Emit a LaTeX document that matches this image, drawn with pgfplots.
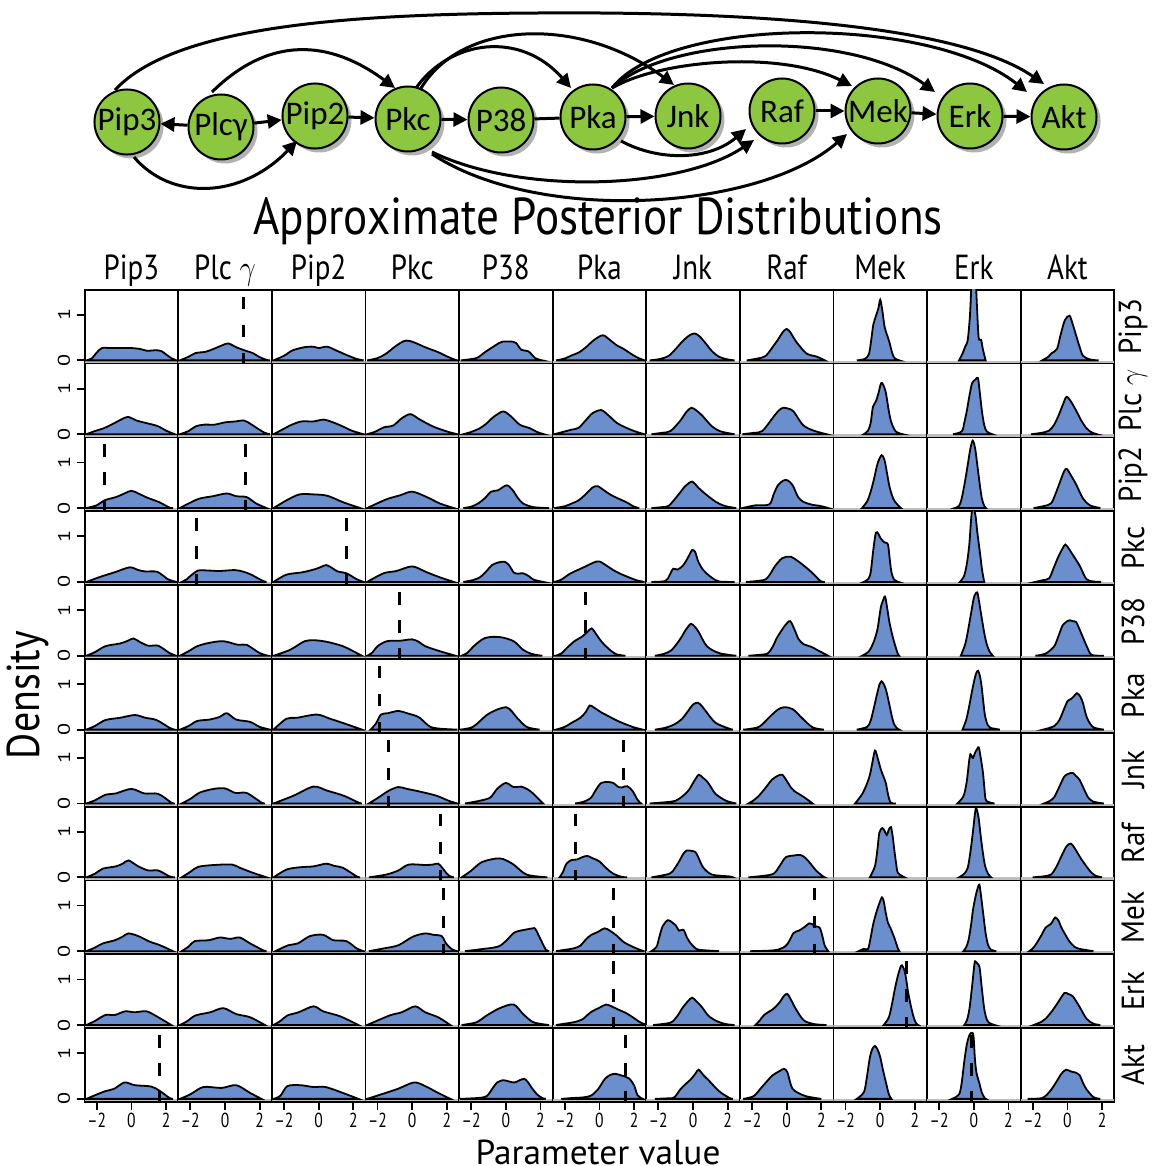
\documentclass[border=0pt]{standalone}
\usepackage{fontspec}
\setmainfont{PT Sans}
\newfontfamily\calfont{Carlito}
\usepackage{graphicx}
\usepackage{pgfplots}
\pgfplotsset{compat=1.18}
\usetikzlibrary{arrows.meta}

\definecolor{dens}{RGB}{106,143,204}
\definecolor{nodegreen}{RGB}{141,198,63}

\newcommand{\sx}[1]{\scalebox{1}[1.3]{#1}}
\newcommand{\sy}[1]{\scalebox{1.3}[1]{#1}}

\pgfplotsset{
  panel/.style={scale only axis, width=46.8pt, height=36.925pt, anchor=north west,
    xmin=-2.7, xmax=2.7, ymin=-0.07, ymax=1.55, xtick=\empty, ytick=\empty,
    axis line style={line width=0.9pt}, tick style={line width=0.9pt, black},
    tick align=outside, major tick length=4pt, xtick pos=bottom, ytick pos=left,
    clip=true, ticklabel style={font=\fontsize{7.8}{8}\selectfont}},
  col0/.style={ytick={0,1}, yticklabels={\sy{0},\sy{1}},
    yticklabel style={rotate=90, anchor=south, inner sep=3pt, font=\fontsize{8.5}{9}\selectfont}},
  col1/.style={}, col2/.style={}, col3/.style={}, col4/.style={}, col5/.style={},
  col6/.style={}, col7/.style={}, col8/.style={}, col9/.style={}, col10/.style={},
  row0/.style={}, row1/.style={}, row2/.style={}, row3/.style={}, row4/.style={},
  row5/.style={}, row6/.style={}, row7/.style={}, row8/.style={}, row9/.style={},
  row10/.style={xtick={-2,0,2}, xticklabels={\sx{–2},\sx{0},\sx{2}},
    xticklabel style={anchor=north, inner sep=1.5pt}},
}

% one density panel: column, row, density points, extra plots (true values)
\newcommand{\pan}[4]{%
\begin{axis}[panel, col#1, row#2, at={(42.3pt+46.8pt*#1,-144.85pt-36.925pt*#2)}]
\addplot[draw=gray!50, line width=1.2pt] coordinates {(-2.7,-0.03)(2.7,-0.03)};
\addplot[fill=dens, draw=black, line width=0.9pt, smooth, tension=0.5] coordinates {#3} \closedcycle;
#4
\end{axis}}
\newcommand{\vd}[1]{\addplot[black, line width=1.5pt, dash pattern=on 6.2pt off 7.8pt] coordinates {(#1,1.395)(#1,-0.07)};}

\newcommand{\nd}[4]{%
\fill[gray!60] (#2+4,#3+4) circle[radius=32.5];
\node[draw, line width=1pt, fill=nodegreen, circle, minimum size=32.5pt, inner sep=0pt,
  font=\calfont\fontsize{16.5}{17}\selectfont] (#1) at (#2,#3) {#4};}

\begin{document}
\begin{tikzpicture}[x=0.5pt, y=-0.5pt]
\path[use as bounding box] (0,0) rectangle (1152,1166);

% ---- network ----
\nd{pip3}{127}{122}{Pip3}
\nd{plc}{221}{127}{Plcγ}
\nd{pip2}{315}{116}{Pip2}
\nd{pkc}{408}{119}{Pkc}
\nd{p38}{501}{120}{P38}
\nd{pka}{593}{117}{Pka}
\nd{jnk}{688}{116}{Jnk}
\nd{raf}{782}{111}{Raf}
\nd{mek}{878}{111}{Mek}
\nd{erk}{970}{116}{Erk}
\nd{akt}{1064}{117}{Akt}

\begin{scope}[line width=1.5pt, arr/.style={-{Triangle[length=7pt,width=7pt]}}]
\draw[arr] (plc) -- (pip3);
\draw[arr] (plc) -- (pip2);
\draw[arr] (pip2) -- (pkc);
\draw[arr] (pkc) -- (p38);
\draw (p38) -- (pka);
\draw[arr] (pka) -- (jnk);
\draw[arr] (raf) -- (mek);
\draw[arr] (mek) -- (erk);
\draw[arr] (erk) -- (akt);
\draw[arr] (134,157) .. controls (170,200) and (240,200) .. (297,141);
\draw[arr] (212,92) .. controls (270,35) and (330,40) .. (395,88);
\draw[arr] (115,90) .. controls (180,20) and (380,12) .. (600,13) .. controls (850,15) and (980,40) .. (1044,84);
\draw[arr] (416,88) .. controls (450,40) and (520,30) .. (571,88);
\draw[arr] (420,90) .. controls (460,20) and (580,15) .. (674,85);
\draw[arr] (612,88) .. controls (660,60) and (780,50) .. (852,86);
\draw[arr] (612,88) .. controls (670,35) and (850,30) .. (935,92);
\draw[arr] (612,88) .. controls (670,15) and (930,15) .. (1027,92);
\draw[arr] (621,141) .. controls (660,162) and (710,160) .. (746,129);
\draw[arr] (432,152) .. controls (520,195) and (680,190) .. (754,140);
\draw[arr] (432,154) .. controls (540,225) and (760,210) .. (847,134);
\end{scope}

% ---- titles ----
\node[font=\fontsize{22.6}{23}\selectfont] at (598,221) {\scalebox{1}[1.15]{Approximate Posterior Distributions}};
\node[font=\fontsize{20}{20}\selectfont, rotate=90] at (28,695) {\scalebox{1}[1.15]{Density}};
\node[font=\fontsize{16.5}{17}\selectfont, anchor=base, inner sep=0pt] at (598,1164) {\scalebox{1.07}[1.05]{Parameter value}};
\foreach \t [count=\i from 0] in {Pip3,Plc $\gamma$,Pip2,Pkc,P38,Pka,Jnk,Raf,Mek,Erk,Akt}{
  \node[font=\fontsize{14.5}{15}\selectfont, anchor=base] at (131.4+93.6*\i,279) {\scalebox{1}[1.2]{\t}};
  \node[font=\fontsize{14.5}{15}\selectfont, rotate=90] at (1133,326.6+73.85*\i) {\scalebox{1}[1.1]{\t}};
}

% ---- row 0: Pip3 ----
\pan{0}{0}{(-2.6,0)(-2.3,0.04)(-2.0,0.17)(-1.7,0.27)(-1.2,0.27)(-0.5,0.27)(0,0.27)(0.5,0.25)(0.9,0.21)(1.3,0.22)(1.7,0.21)(2.0,0.13)(2.3,0.05)(2.6,0)}{}
\pan{1}{0}{(-2.6,0)(-2.1,0.08)(-1.7,0.16)(-1.1,0.19)(-0.6,0.26)(-0.1,0.34)(0.2,0.37)(0.7,0.28)(1.2,0.21)(1.6,0.16)(2.0,0.07)(2.4,0.01)(2.6,0)}{\vd{1.05}}
\pan{2}{0}{(-2.6,0)(-2.0,0.1)(-1.5,0.22)(-0.8,0.29)(-0.3,0.3)(0,0.27)(0.5,0.3)(1.0,0.22)(1.6,0.12)(2.2,0.03)(2.6,0)}{}
\pan{3}{0}{(-2.6,0)(-2.0,0.05)(-1.5,0.15)(-1.0,0.3)(-0.5,0.42)(-0.2,0.43)(0.2,0.38)(0.8,0.28)(1.5,0.18)(2.1,0.07)(2.5,0.01)(2.6,0)}{}
\pan{4}{0}{(-2.6,0)(-1.7,0.05)(-1.2,0.18)(-0.6,0.33)(-0.2,0.41)(0.4,0.41)(0.6,0.38)(0.9,0.23)(1.3,0.2)(1.7,0.05)(2.1,0)}{}
\pan{5}{0}{(-2.5,0)(-2.0,0.04)(-1.6,0.11)(-1.2,0.17)(-0.8,0.28)(-0.3,0.45)(0.2,0.55)(0.6,0.45)(1.0,0.33)(1.4,0.25)(1.8,0.15)(2.2,0.06)(2.6,0)}{}
\pan{6}{0}{(-2.5,0)(-1.9,0.03)(-1.4,0.1)(-1.0,0.25)(-0.6,0.42)(-0.2,0.55)(0.1,0.59)(0.4,0.52)(0.8,0.34)(1.1,0.2)(1.5,0.08)(2.0,0.02)(2.4,0)}{}
\pan{7}{0}{(-2.3,0)(-1.7,0.04)(-1.2,0.1)(-0.6,0.4)(0,0.69)(0.57,0.4)(1.15,0.15)(1.75,0.08)(2.2,0)}{}
\pan{8}{0}{(-1.35,0)(-0.9,0.03)(-0.65,0.14)(-0.5,0.5)(-0.4,0.78)(-0.25,0.97)(-0.1,1.15)(0,1.33)(0.12,1.1)(0.25,0.74)(0.4,0.55)(0.53,0.4)(0.7,0.15)(0.85,0.04)(1.1,0)}{}
\pan{9}{0}{(-0.85,0)(-0.65,0.15)(-0.5,0.3)(-0.35,0.45)(-0.22,1.0)(-0.12,1.8)(-0.02,2.2)(0.08,2.0)(0.18,1.2)(0.28,0.5)(0.42,0.45)(0.52,0.25)(0.68,0)}{}
\pan{10}{0}{(-1.45,0)(-1.1,0.08)(-0.9,0.16)(-0.6,0.25)(-0.4,0.55)(-0.15,0.88)(0.12,0.98)(0.3,0.8)(0.5,0.55)(0.7,0.3)(0.9,0.1)(1.3,0.02)(1.8,0)}{}

% ---- row 1: Plc gamma ----
\pan{0}{1}{(-2.6,0)(-2.1,0.07)(-1.6,0.13)(-1.1,0.22)(-0.6,0.32)(-0.2,0.38)(0.3,0.3)(0.8,0.25)(1.5,0.18)(2.0,0.08)(2.5,0)}{}
\pan{1}{1}{(-2.6,0)(-2.1,0.07)(-1.7,0.17)(-1.2,0.21)(-0.6,0.21)(0,0.26)(0.6,0.28)(1.1,0.3)(1.5,0.22)(1.9,0.12)(2.3,0.03)(2.6,0)}{}
\pan{2}{1}{(-2.6,0)(-2.1,0.1)(-1.6,0.2)(-1.0,0.28)(-0.3,0.28)(0.3,0.32)(0.9,0.25)(1.4,0.17)(1.9,0.08)(2.4,0.02)(2.6,0)}{}
\pan{3}{1}{(-2.6,0)(-2.1,0.06)(-1.65,0.15)(-1.1,0.19)(-0.6,0.35)(-0.1,0.44)(0.45,0.32)(1.2,0.17)(2.0,0.06)(2.6,0)}{}
\pan{4}{1}{(-2.45,0)(-2.0,0.05)(-1.5,0.13)(-1.1,0.24)(-0.7,0.38)(-0.15,0.5)(0.3,0.39)(0.8,0.21)(1.4,0.13)(1.8,0.05)(2.2,0)}{}
\pan{5}{1}{(-2.6,0)(-2.0,0.06)(-1.6,0.1)(-1.2,0.14)(-0.8,0.3)(-0.4,0.46)(0.1,0.53)(0.5,0.42)(1.0,0.25)(1.5,0.15)(2.0,0.07)(2.5,0.01)(2.6,0)}{}
\pan{6}{1}{(-2.4,0)(-1.8,0.03)(-1.3,0.07)(-0.75,0.29)(-0.4,0.48)(-0.1,0.58)(0.2,0.52)(0.55,0.4)(1.1,0.17)(1.6,0.06)(2.4,0)}{}
\pan{7}{1}{(-2.55,0)(-1.9,0.03)(-1.4,0.07)(-0.8,0.36)(-0.45,0.52)(-0.2,0.58)(0.1,0.56)(0.4,0.5)(0.95,0.2)(1.55,0.08)(2.3,0)}{}
\pan{8}{1}{(-0.95,0)(-0.7,0.08)(-0.55,0.25)(-0.42,0.6)(-0.25,0.72)(-0.1,0.9)(0.05,1.12)(0.18,1.08)(0.33,0.9)(0.5,0.5)(0.65,0.25)(0.9,0.06)(1.3,0)}{}
\pan{9}{1}{(-1.2,0)(-0.7,0.06)(-0.55,0.25)(-0.4,0.52)(-0.25,0.85)(-0.1,1.12)(0.1,1.2)(0.24,1.23)(0.35,0.9)(0.47,0.5)(0.6,0.2)(0.75,0.06)(1.06,0)}{}
\pan{10}{1}{(-2.1,0)(-1.5,0.03)(-1.05,0.08)(-0.75,0.22)(-0.5,0.42)(-0.25,0.66)(-0.05,0.82)(0.2,0.72)(0.5,0.52)(0.8,0.3)(1.1,0.13)(1.4,0.04)(1.7,0)}{}

% ---- row 2: Pip2 ----
\pan{0}{2}{(-2.6,0)(-2.0,0.06)(-1.55,0.17)(-0.9,0.24)(-0.4,0.32)(0,0.38)(0.4,0.32)(0.9,0.23)(1.6,0.13)(2.2,0.01)(2.4,0)}{\vd{-1.54}}
\pan{1}{2}{(-2.6,0)(-2.0,0.12)(-1.45,0.21)(-0.7,0.26)(0.1,0.32)(0.65,0.26)(1.25,0.24)(1.8,0.1)(2.4,0)}{\vd{1.19}}
\pan{2}{2}{(-2.6,0)(-1.85,0.17)(-1.1,0.3)(-0.3,0.3)(0.5,0.27)(1.4,0.13)(2.4,0)}{}
\pan{3}{2}{(-2.6,0)(-1.5,0.19)(-0.7,0.28)(0,0.36)(0.85,0.24)(1.6,0.1)(2.4,0)}{}
\pan{4}{2}{(-2.45,0)(-2.0,0.03)(-1.6,0.1)(-1.2,0.22)(-0.85,0.36)(-0.45,0.39)(0.05,0.5)(0.4,0.39)(0.7,0.22)(1.0,0.1)(1.6,0.02)(2.5,0)}{}
\pan{5}{2}{(-2.6,0)(-2.0,0.04)(-1.6,0.1)(-1.2,0.17)(-0.8,0.3)(-0.4,0.45)(-0.1,0.48)(0.3,0.38)(0.7,0.28)(1.2,0.19)(1.6,0.12)(2.0,0.03)(2.3,0)}{}
\pan{6}{2}{(-2.4,0)(-1.8,0.02)(-1.4,0.05)(-0.85,0.29)(-0.45,0.48)(-0.05,0.58)(0.3,0.45)(0.65,0.33)(1.3,0.14)(1.8,0.05)(2.3,0.01)(2.5,0)}{}
\pan{7}{2}{(-2.55,0)(-1.8,0.06)(-1.0,0.08)(-0.75,0.3)(-0.5,0.5)(-0.2,0.6)(0.05,0.61)(0.35,0.5)(0.65,0.25)(0.95,0.14)(1.5,0.07)(1.9,0.05)(2.4,0)}{}
\pan{8}{2}{(-1.05,0)(-0.75,0.15)(-0.55,0.36)(-0.35,0.65)(-0.15,0.98)(0.08,1.16)(0.25,1.05)(0.4,0.75)(0.53,0.48)(0.68,0.28)(0.85,0.14)(1.2,0)}{}
\pan{9}{2}{(-1.1,0)(-0.85,0.05)(-0.7,0.21)(-0.5,0.6)(-0.35,0.95)(-0.2,1.3)(-0.06,1.48)(0.08,1.3)(0.2,0.95)(0.35,0.5)(0.47,0.2)(0.6,0.05)(0.7,0)}{}
\pan{10}{2}{(-1.95,0)(-1.4,0.04)(-0.95,0.1)(-0.7,0.3)(-0.45,0.55)(-0.2,0.8)(-0.04,0.86)(0.2,0.72)(0.5,0.52)(0.9,0.21)(1.3,0.06)(1.9,0)}{}

% ---- row 3: Pkc ----
\pan{0}{3}{(-2.6,0)(-2.1,0.07)(-1.65,0.13)(-0.9,0.22)(-0.1,0.32)(0.4,0.26)(0.8,0.23)(1.5,0.22)(2.1,0.06)(2.6,0)}{}
\pan{1}{3}{(-2.5,0)(-2.2,0.06)(-2.0,0.13)(-1.55,0.25)(-1.0,0.25)(-0.3,0.24)(0.55,0.26)(1.0,0.23)(1.45,0.17)(2.2,0.02)(2.4,0)}{\vd{-1.67}}
\pan{2}{3}{(-2.6,0)(-1.85,0.16)(-0.95,0.21)(-0.2,0.28)(0.15,0.33)(0.45,0.37)(0.8,0.3)(1.1,0.23)(1.6,0.19)(2.2,0.06)(2.6,0)}{\vd{1.6}}
\pan{3}{3}{(-2.6,0)(-1.65,0.19)(-0.9,0.24)(0,0.34)(0.85,0.21)(1.6,0.1)(2.4,0)}{}
\pan{4}{3}{(-2.45,0)(-1.9,0.04)(-1.5,0.1)(-1.1,0.24)(-0.8,0.37)(-0.4,0.43)(-0.05,0.44)(0.2,0.36)(0.45,0.21)(0.7,0.18)(1.0,0.19)(1.35,0.12)(1.6,0.05)(2.15,0)}{}
\pan{5}{3}{(-2.6,0)(-2.2,0.05)(-1.7,0.18)(-1.2,0.27)(-0.8,0.34)(-0.3,0.43)(0,0.45)(0.4,0.36)(0.8,0.26)(1.2,0.18)(1.7,0.1)(2.2,0.03)(2.6,0)}{}
\pan{6}{3}{(-2.4,0)(-1.6,0.02)(-1.35,0.15)(-1.14,0.29)(-0.9,0.27)(-0.6,0.35)(-0.4,0.46)(-0.2,0.6)(-0.05,0.7)(0.12,0.66)(0.3,0.45)(0.55,0.28)(0.8,0.18)(1.1,0.09)(1.5,0.01)(2.4,0)}{}
\pan{7}{3}{(-2.35,0)(-1.7,0.02)(-1.2,0.06)(-0.9,0.2)(-0.7,0.33)(-0.25,0.52)(0.25,0.55)(0.85,0.4)(1.45,0.21)(1.95,0.02)(2.2,0)}{}
\pan{8}{3}{(-0.95,0)(-0.7,0.06)(-0.55,0.21)(-0.4,0.7)(-0.25,1.08)(-0.1,1.05)(0,0.97)(0.2,0.88)(0.3,0.86)(0.45,0.82)(0.55,0.5)(0.65,0.21)(0.8,0.05)(1.06,0)}{}
\pan{9}{3}{(-0.8,0)(-0.6,0.1)(-0.5,0.21)(-0.38,0.45)(-0.26,0.82)(-0.17,1.3)(-0.1,1.58)(0.0,1.6)(0.1,1.45)(0.2,1.1)(0.3,0.8)(0.4,0.5)(0.48,0.25)(0.6,0)}{}
\pan{10}{3}{(-1.85,0)(-1.4,0.04)(-1.05,0.08)(-0.8,0.3)(-0.55,0.53)(-0.3,0.72)(-0.12,0.82)(0.1,0.72)(0.3,0.6)(0.7,0.36)(1.1,0.06)(1.5,0.01)(1.95,0)}{}

% ---- row 4: P38 ----
\pan{0}{4}{(-2.6,0)(-2.1,0.08)(-1.5,0.21)(-0.65,0.27)(-0.2,0.33)(0.12,0.38)(0.5,0.3)(0.98,0.22)(1.55,0.22)(2.2,0.06)(2.6,0)}{}
\pan{1}{4}{(-2.6,0)(-2.1,0.1)(-1.6,0.21)(-0.95,0.28)(-0.1,0.32)(0.75,0.24)(1.25,0.24)(2.0,0.06)(2.5,0)}{}
\pan{2}{4}{(-2.6,0)(-1.65,0.13)(-0.8,0.32)(-0.2,0.34)(0.55,0.3)(1.4,0.21)(2.0,0.1)(2.5,0)}{}
\pan{3}{4}{(-2.6,0)(-2.3,0.07)(-2.0,0.21)(-1.45,0.32)(-0.7,0.33)(0,0.36)(0.4,0.3)(0.75,0.21)(1.6,0.1)(2.5,0)}{\vd{-0.75}}
\pan{4}{4}{(-2.55,0)(-2.2,0.07)(-1.85,0.21)(-1.2,0.39)(-0.35,0.41)(0.45,0.32)(1.0,0.13)(1.5,0.04)(2.1,0)}{}
\pan{5}{4}{(-2.55,0)(-2.2,0.05)(-1.8,0.2)(-1.4,0.33)(-1.0,0.42)(-0.7,0.52)(-0.45,0.6)(-0.2,0.48)(0.1,0.32)(0.4,0.2)(0.7,0.1)(1.0,0.03)(1.5,0)}{\vd{-0.83}}
\pan{6}{4}{(-2.2,0)(-1.7,0.04)(-1.25,0.12)(-0.75,0.36)(-0.4,0.58)(-0.12,0.7)(0.1,0.64)(0.33,0.52)(0.8,0.21)(1.5,0.06)(2.5,0)}{}
\pan{7}{4}{(-2.2,0)(-1.6,0.02)(-1.1,0.05)(-0.8,0.2)(-0.55,0.4)(-0.1,0.66)(0.2,0.76)(0.45,0.58)(0.7,0.36)(1.0,0.25)(1.4,0.2)(1.9,0.1)(2.4,0)}{}
\pan{8}{4}{(-1.05,0)(-0.65,0.1)(-0.35,0.33)(-0.15,0.6)(0.03,1.05)(0.15,1.2)(0.28,1.3)(0.4,1.05)(0.53,0.74)(0.7,0.45)(0.82,0.28)(1.0,0.06)(1.1,0)}{}
\pan{9}{4}{(-0.75,0)(-0.5,0.25)(-0.35,0.52)(-0.15,0.95)(0.0,1.27)(0.1,1.36)(0.2,1.39)(0.3,1.2)(0.43,0.89)(0.58,0.55)(0.72,0.29)(0.9,0.1)(1.1,0)}{}
\pan{10}{4}{(-1.85,0)(-1.25,0.05)(-0.76,0.21)(-0.5,0.45)(-0.27,0.67)(0.0,0.76)(0.12,0.78)(0.3,0.76)(0.5,0.74)(0.7,0.58)(0.9,0.4)(1.15,0.18)(1.4,0.02)(2.1,0)}{}

% ---- row 5: Pka ----
\pan{0}{5}{(-2.6,0)(-2.1,0.08)(-1.5,0.21)(-0.65,0.26)(0.2,0.32)(0.8,0.26)(1.45,0.21)(2.2,0.04)(2.5,0)}{}
\pan{1}{5}{(-2.6,0)(-2.1,0.08)(-1.6,0.19)(-0.9,0.22)(-0.3,0.28)(0.1,0.36)(0.65,0.22)(1.45,0.17)(2.0,0.06)(2.6,0)}{}
\pan{2}{5}{(-2.6,0)(-1.85,0.24)(-1.25,0.26)(-0.1,0.33)(0.65,0.24)(1.6,0.12)(2.5,0)}{}
\pan{3}{5}{(-2.4,0)(-2.1,0.13)(-1.8,0.33)(-1.4,0.36)(-0.8,0.41)(-0.3,0.36)(0.35,0.28)(0.75,0.15)(1.05,0.06)(1.6,0.02)(2.6,0)}{\vd{-1.88}}
\pan{4}{5}{(-2.65,0)(-1.9,0.06)(-1.1,0.32)(-0.5,0.44)(0.04,0.49)(0.35,0.4)(0.6,0.28)(1.2,0.06)(1.95,0)}{}
\pan{5}{5}{(-2.5,0)(-2.0,0.06)(-1.6,0.15)(-1.1,0.26)(-0.8,0.38)(-0.55,0.53)(-0.3,0.48)(0.1,0.38)(0.5,0.3)(1.0,0.2)(1.5,0.12)(2.0,0.05)(2.5,0)}{}
\pan{6}{5}{(-2.2,0)(-1.6,0.04)(-1.05,0.12)(-0.65,0.23)(-0.3,0.4)(0,0.55)(0.28,0.59)(0.5,0.52)(0.75,0.4)(1.3,0.15)(2.1,0.02)(2.3,0)}{}
\pan{7}{5}{(-2.5,0)(-1.6,0.06)(-0.95,0.29)(-0.5,0.44)(-0.15,0.49)(0.35,0.45)(0.9,0.25)(1.5,0.05)(2.15,0)}{}
\pan{8}{5}{(-1.35,0)(-0.75,0.06)(-0.55,0.2)(-0.4,0.42)(-0.2,0.75)(-0.05,0.98)(0.08,1.06)(0.2,1.0)(0.33,0.88)(0.5,0.6)(0.65,0.33)(0.8,0.12)(1.0,0.02)(1.1,0)}{}
\pan{9}{5}{(-0.65,0)(-0.45,0.2)(-0.3,0.45)(-0.1,0.85)(0.05,1.12)(0.15,1.25)(0.25,1.29)(0.35,1.18)(0.45,0.95)(0.55,0.6)(0.65,0.3)(0.8,0.1)(0.95,0.04)(1.2,0.02)(1.5,0)}{}
\pan{10}{5}{(-1.4,0)(-0.75,0.08)(-0.45,0.22)(-0.25,0.4)(0,0.62)(0.2,0.67)(0.35,0.72)(0.55,0.8)(0.75,0.72)(0.9,0.58)(1.05,0.35)(1.2,0.2)(1.5,0.05)(2.1,0)}{}

% ---- row 6: Jnk ----
\pan{0}{6}{(-2.6,0)(-2.1,0.07)(-1.5,0.19)(-0.9,0.22)(0,0.32)(0.75,0.22)(1.55,0.21)(2.3,0.02)(2.5,0)}{}
\pan{1}{6}{(-2.5,0)(-2.0,0.1)(-1.45,0.24)(-0.65,0.32)(0,0.33)(0.6,0.23)(1.25,0.23)(2.1,0.02)(2.3,0)}{}
\pan{2}{6}{(-2.6,0)(-1.45,0.17)(-0.3,0.37)(0.5,0.28)(1.45,0.17)(2.3,0.02)(2.5,0)}{}
\pan{3}{6}{(-2.5,0)(-1.95,0.13)(-1.35,0.28)(-0.8,0.36)(-0.3,0.32)(0.45,0.26)(1.4,0.17)(2.1,0.06)(2.6,0)}{\vd{-1.35}}
\pan{4}{6}{(-2.35,0)(-1.5,0.06)(-0.9,0.13)(-0.5,0.32)(0,0.45)(0.45,0.36)(0.9,0.37)(1.3,0.3)(1.6,0.21)(2.15,0)}{}
\pan{5}{6}{(-1.4,0)(-0.9,0.04)(-0.5,0.12)(-0.2,0.3)(0.1,0.45)(0.5,0.47)(0.8,0.45)(1.1,0.36)(1.3,0.35)(1.6,0.38)(1.9,0.28)(2.2,0.08)(2.4,0)}{\vd{1.37}}
\pan{6}{6}{(-2.5,0)(-1.5,0.03)(-1.0,0.06)(-0.6,0.16)(-0.25,0.29)(0.05,0.48)(0.33,0.63)(0.55,0.57)(0.82,0.48)(1.05,0.35)(1.3,0.21)(1.9,0.06)(2.5,0)}{}
\pan{7}{6}{(-2.2,0)(-1.9,0.07)(-1.6,0.17)(-1.2,0.35)(-0.85,0.52)(-0.5,0.61)(-0.25,0.63)(0.0,0.5)(0.25,0.35)(0.45,0.27)(1.0,0.14)(1.5,0)}{}
\pan{8}{6}{(-1.45,0)(-1.05,0.2)(-0.8,0.4)(-0.6,0.62)(-0.45,0.9)(-0.3,1.16)(-0.15,1.0)(0.04,0.74)(0.2,0.58)(0.33,0.44)(0.45,0.2)(0.6,0.02)(0.9,0)}{}
\pan{9}{6}{(-0.95,0)(-0.7,0.1)(-0.55,0.21)(-0.4,0.5)(-0.28,0.9)(-0.2,1.08)(-0.1,1.02)(-0.04,1.0)(0.08,1.12)(0.2,1.2)(0.29,1.23)(0.4,1.0)(0.53,0.67)(0.62,0.3)(0.72,0.06)(1.2,0)}{}
\pan{10}{6}{(-1.35,0)(-1.0,0.06)(-0.76,0.14)(-0.45,0.38)(-0.18,0.59)(0.05,0.65)(0.31,0.67)(0.5,0.6)(0.7,0.52)(0.95,0.32)(1.2,0.13)(1.5,0.04)(2.1,0)}{}

% ---- row 7: Raf ----
\pan{0}{7}{(-2.6,0)(-2.1,0.08)(-1.65,0.19)(-0.9,0.24)(-0.5,0.3)(-0.17,0.37)(0.4,0.24)(0.98,0.15)(1.55,0.15)(2.2,0.02)(2.5,0)}{}
\pan{1}{7}{(-2.5,0)(-2.0,0.12)(-1.55,0.23)(-0.65,0.27)(0.4,0.28)(0.85,0.21)(1.6,0.1)(2.4,0)}{}
\pan{2}{7}{(-2.6,0)(-1.85,0.17)(-1.1,0.22)(-0.3,0.24)(0.45,0.3)(0.9,0.25)(1.4,0.21)(2.2,0.02)(2.4,0)}{}
\pan{3}{7}{(-2.5,0)(-1.5,0.06)(-0.8,0.15)(-0.2,0.28)(0.75,0.27)(1.2,0.28)(1.5,0.3)(1.75,0.2)(2.0,0.08)(2.2,0.02)(2.4,0)}{\vd{1.65}}
\pan{4}{7}{(-2.55,0)(-2.05,0.13)(-1.4,0.33)(-0.6,0.41)(-0.15,0.4)(0.45,0.28)(1.2,0.06)(2.4,0)}{}
\pan{5}{7}{(-2.3,0)(-2.1,0.12)(-1.9,0.3)(-1.6,0.38)(-1.3,0.39)(-1.0,0.44)(-0.7,0.47)(-0.4,0.42)(0.0,0.35)(0.4,0.2)(0.8,0.08)(1.3,0.01)(1.6,0)}{\vd{-1.37}}
\pan{6}{7}{(-2.4,0)(-1.35,0.08)(-1.05,0.2)(-0.8,0.35)(-0.55,0.52)(-0.35,0.59)(-0.1,0.58)(0.15,0.55)(0.35,0.4)(0.6,0.21)(1.1,0.06)(2.1,0.02)(2.3,0)}{}
\pan{7}{7}{(-2.2,0)(-1.4,0.03)(-0.75,0.08)(-0.4,0.25)(-0.05,0.44)(0.45,0.48)(0.8,0.49)(1.1,0.42)(1.4,0.29)(1.7,0.15)(2.1,0.02)(2.2,0)}{}
\pan{8}{7}{(-0.6,0)(-0.3,0.25)(-0.15,0.65)(-0.05,0.98)(0.12,1.08)(0.25,1.02)(0.38,0.93)(0.5,1.05)(0.62,1.1)(0.72,0.9)(0.82,0.58)(0.92,0.3)(1.02,0.1)(1.4,0)}{}
\pan{9}{7}{(-0.85,0)(-0.55,0.08)(-0.35,0.21)(-0.2,0.55)(-0.05,1.0)(0.05,1.35)(0.12,1.52)(0.2,1.45)(0.29,1.27)(0.4,0.9)(0.53,0.52)(0.65,0.25)(0.82,0.08)(1.0,0)}{}
\pan{10}{7}{(-2.0,0)(-1.4,0.02)(-0.95,0.06)(-0.65,0.22)(-0.35,0.46)(-0.05,0.68)(0.2,0.74)(0.45,0.62)(0.8,0.4)(1.3,0.14)(1.6,0.04)(2.0,0)}{}

% ---- row 8: Mek ----
\pan{0}{8}{(-2.6,0)(-2.1,0.08)(-1.65,0.17)(-0.95,0.24)(-0.5,0.32)(-0.17,0.39)(0.4,0.33)(1.05,0.21)(1.65,0.13)(2.4,0)}{}
\pan{1}{8}{(-2.5,0)(-2.1,0.1)(-1.75,0.22)(-0.95,0.24)(-0.3,0.3)(0.3,0.27)(0.85,0.3)(1.45,0.17)(2.2,0.02)(2.4,0)}{}
\pan{2}{8}{(-2.5,0)(-1.75,0.13)(-1.2,0.17)(-0.5,0.33)(0.25,0.36)(0.85,0.24)(1.6,0.22)(2.2,0.06)(2.6,0)}{}
\pan{3}{8}{(-2.5,0)(-1.65,0.06)(-0.8,0.13)(0.05,0.32)(0.75,0.39)(1.2,0.36)(1.7,0.33)(1.95,0.17)(2.3,0.04)(2.6,0)}{\vd{1.8}}
\pan{4}{8}{(-2.35,0)(-1.5,0.04)(-0.45,0.1)(0.05,0.24)(0.5,0.41)(1.1,0.47)(1.55,0.5)(1.7,0.49)(1.98,0.28)(2.3,0.04)(2.5,0)}{}
\pan{5}{8}{(-2.5,0)(-2.0,0.03)(-1.5,0.06)(-1.1,0.12)(-0.8,0.25)(-0.5,0.35)(-0.1,0.42)(0.3,0.5)(0.6,0.45)(1.0,0.34)(1.4,0.2)(1.9,0.1)(2.4,0.02)(2.6,0)}{\vd{0.8}}
\pan{6}{8}{(-2.4,0)(-2.1,0.1)(-1.95,0.3)(-1.75,0.55)(-1.45,0.68)(-1.2,0.63)(-1.0,0.57)(-0.8,0.45)(-0.55,0.47)(-0.35,0.3)(-0.15,0.18)(0.1,0.08)(0.35,0.03)(1.5,0)}{}
\pan{7}{8}{(-2.1,0)(-0.7,0.02)(-0.1,0.1)(0.15,0.22)(0.4,0.4)(0.7,0.45)(1.0,0.52)(1.3,0.61)(1.45,0.6)(1.6,0.55)(1.9,0.52)(2.05,0.35)(2.2,0.12)(2.4,0)}{\vd{1.6}}
\pan{8}{8}{(-1.25,0)(-0.95,0.05)(-0.7,0.05)(-0.55,0.3)(-0.4,0.6)(-0.2,0.88)(0.0,1.1)(0.1,1.18)(0.2,1.1)(0.33,0.82)(0.45,0.62)(0.6,0.5)(0.82,0.29)(1.0,0.08)(1.1,0)}{}
\pan{9}{8}{(-0.6,0)(-0.45,0.08)(-0.3,0.25)(-0.15,0.6)(-0.05,0.9)(0.1,1.2)(0.2,1.35)(0.32,1.46)(0.42,1.2)(0.55,0.8)(0.68,0.4)(0.82,0.14)(1.0,0.03)(1.3,0)}{}
\pan{10}{8}{(-2.2,0)(-2.0,0.06)(-1.8,0.16)(-1.5,0.35)(-1.25,0.52)(-0.95,0.6)(-0.7,0.74)(-0.5,0.66)(-0.35,0.52)(-0.1,0.35)(0.12,0.21)(0.4,0.1)(0.7,0.05)(1.5,0)}{}

% ---- row 9: Erk ----
\pan{0}{9}{(-2.6,0)(-2.1,0.09)(-1.5,0.22)(-0.95,0.22)(-0.37,0.3)(0.2,0.28)(0.88,0.3)(1.55,0.17)(2.3,0)}{}
\pan{1}{9}{(-2.6,0)(-2.2,0.08)(-1.7,0.21)(-0.85,0.28)(-0.1,0.37)(0.65,0.24)(1.45,0.17)(2.3,0)}{}
\pan{2}{9}{(-2.6,0)(-2.2,0.09)(-1.8,0.21)(-1.15,0.28)(-0.3,0.41)(0.27,0.3)(1.25,0.19)(2.3,0)}{}
\pan{3}{9}{(-2.6,0)(-1.3,0.21)(-0.6,0.28)(0.17,0.41)(0.75,0.28)(1.5,0.17)(2.2,0)}{}
\pan{4}{9}{(-2.55,0)(-1.7,0.06)(-1.1,0.21)(-0.35,0.37)(0.45,0.45)(1.0,0.24)(1.6,0.06)(2.5,0)}{}
\pan{5}{9}{(-2.5,0)(-2.0,0.03)(-1.5,0.06)(-1.0,0.12)(-0.5,0.28)(0.0,0.38)(0.4,0.45)(0.8,0.39)(1.2,0.32)(1.6,0.25)(2.0,0.15)(2.4,0.05)(2.7,0.01)}{\vd{0.83}}
\pan{6}{9}{(-2.3,0)(-1.8,0.02)(-1.25,0.06)(-0.9,0.2)(-0.6,0.38)(-0.3,0.52)(-0.05,0.6)(0.2,0.52)(0.5,0.4)(0.9,0.2)(1.4,0.08)(1.9,0.02)(2.4,0)}{}
\pan{7}{9}{(-1.8,0)(-1.55,0.1)(-1.3,0.22)(-0.75,0.36)(-0.4,0.5)(-0.15,0.64)(0.05,0.68)(0.3,0.52)(0.55,0.34)(1.0,0.1)(1.6,0.02)(2.3,0)}{}
\pan{8}{9}{(0.2,0)(0.5,0.17)(0.7,0.5)(0.85,0.8)(1.0,1.05)(1.15,1.25)(1.25,1.31)(1.4,1.2)(1.5,1.0)(1.6,0.74)(1.75,0.45)(1.9,0.21)(2.05,0.05)(2.2,0)}{\vd{1.54}}
\pan{9}{9}{(-0.55,0)(-0.4,0.1)(-0.25,0.36)(-0.1,0.85)(0.04,1.35)(0.1,1.39)(0.2,1.35)(0.33,1.27)(0.45,0.85)(0.6,0.36)(0.75,0.12)(0.92,0.04)(1.2,0)}{}
\pan{10}{9}{(-1.95,0)(-1.5,0.07)(-1.25,0.14)(-0.9,0.3)(-0.57,0.48)(-0.18,0.7)(0.05,0.68)(0.31,0.63)(0.7,0.4)(1.1,0.14)(1.5,0.03)(1.9,0)}{}

% ---- row 10: Akt ----
\pan{0}{10}{(-2.6,0)(-2.1,0.08)(-1.5,0.17)(-1.0,0.22)(-0.4,0.36)(0.2,0.3)(1.15,0.27)(1.65,0.17)(2.2,0.02)(2.4,0)}{\vd{1.62}}
\pan{1}{10}{(-2.6,0)(-2.0,0.1)(-1.25,0.26)(-0.2,0.24)(0.65,0.3)(1.45,0.13)(2.1,0)}{}
\pan{2}{10}{(-2.6,0)(-2.2,0.07)(-1.8,0.28)(-1.05,0.3)(-0.3,0.26)(0.4,0.26)(1.4,0.13)(2.3,0)}{}
\pan{3}{10}{(-2.6,0)(-0.9,0.21)(0.1,0.36)(0.75,0.28)(1.5,0.13)(2.2,0)}{}
\pan{4}{10}{(-2.65,0)(-1.6,0.02)(-1.1,0.06)(-0.75,0.24)(-0.5,0.36)(-0.15,0.41)(0.2,0.38)(0.5,0.36)(0.75,0.4)(1.05,0.44)(1.25,0.38)(1.5,0.24)(1.8,0.1)(2.1,0.02)(2.3,0)}{}
\pan{5}{10}{(-2.2,0)(-1.5,0.02)(-1.0,0.03)(-0.5,0.07)(-0.1,0.2)(0.3,0.43)(0.6,0.52)(0.9,0.55)(1.3,0.51)(1.7,0.45)(2.0,0.3)(2.2,0.08)(2.5,0)}{\vd{1.51}}
\pan{6}{10}{(-2.2,0)(-1.6,0.01)(-1.1,0.03)(-0.75,0.2)(-0.5,0.3)(-0.1,0.44)(0.15,0.56)(0.33,0.64)(0.6,0.52)(0.92,0.4)(1.5,0.17)(2.1,0.02)(2.3,0)}{}
\pan{7}{10}{(-2.5,0)(-1.9,0.06)(-1.45,0.25)(-1.1,0.4)(-0.8,0.52)(-0.45,0.6)(-0.15,0.66)(0.05,0.58)(0.25,0.3)(0.45,0.18)(1.1,0.06)(2.0,0)}{}
\pan{8}{10}{(-1.35,0)(-0.95,0.14)(-0.8,0.4)(-0.6,0.9)(-0.45,1.1)(-0.3,1.16)(-0.15,1.08)(0.0,0.92)(0.15,0.65)(0.33,0.36)(0.5,0.1)(0.65,0)}{}
\pan{9}{10}{(-1.25,0)(-0.85,0.1)(-0.7,0.35)(-0.55,0.82)(-0.4,1.2)(-0.25,1.4)(-0.12,1.45)(-0.02,1.38)(0.06,0.9)(0.15,0.58)(0.33,0.33)(0.45,0.15)(0.62,0.02)(0.7,0)}{\vd{-0.15}}
\pan{10}{10}{(-2.3,0)(-1.45,0.02)(-1.0,0.17)(-0.66,0.36)(-0.35,0.55)(-0.08,0.64)(0.21,0.6)(0.45,0.58)(0.7,0.52)(0.9,0.35)(1.1,0.21)(1.5,0.04)(1.9,0)}{}
\end{tikzpicture}
\end{document}
